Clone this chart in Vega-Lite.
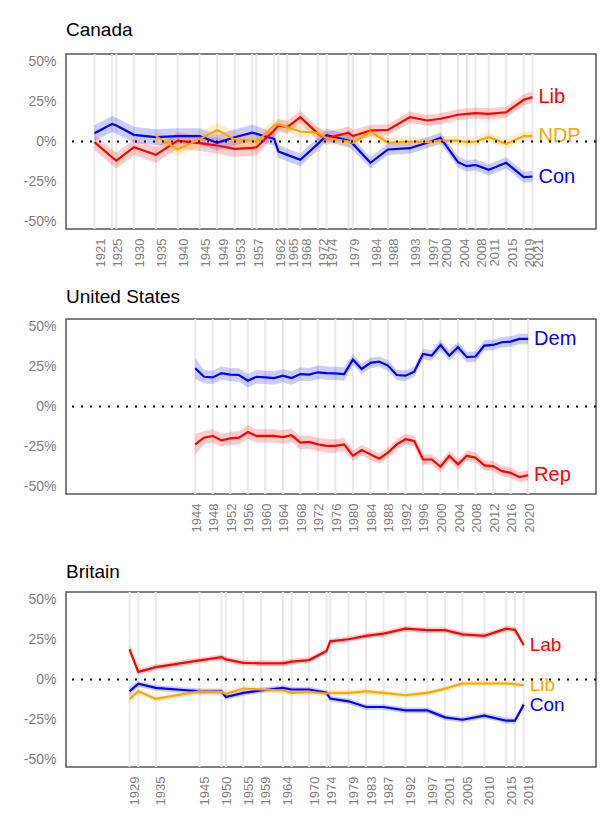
{
  "$schema": "https://vega.github.io/schema/vega-lite/v6.json",
  "background": "white",
  "padding": {"left": 22, "top": 20, "right": 5, "bottom": 5},
  "spacing": 19,
  "resolve": {"scale": {"color": "independent"}, "legend": {"color": "independent"}},
  "datasets": {
    "elections": [
      {"country": "Canada", "year": 1921}, {"country": "Canada", "year": 1925}, {"country": "Canada", "year": 1926},
      {"country": "Canada", "year": 1930}, {"country": "Canada", "year": 1935}, {"country": "Canada", "year": 1940},
      {"country": "Canada", "year": 1945}, {"country": "Canada", "year": 1949}, {"country": "Canada", "year": 1953},
      {"country": "Canada", "year": 1957}, {"country": "Canada", "year": 1958}, {"country": "Canada", "year": 1962},
      {"country": "Canada", "year": 1963}, {"country": "Canada", "year": 1965}, {"country": "Canada", "year": 1968},
      {"country": "Canada", "year": 1972}, {"country": "Canada", "year": 1974}, {"country": "Canada", "year": 1979},
      {"country": "Canada", "year": 1980}, {"country": "Canada", "year": 1984}, {"country": "Canada", "year": 1988},
      {"country": "Canada", "year": 1993}, {"country": "Canada", "year": 1997}, {"country": "Canada", "year": 2000},
      {"country": "Canada", "year": 2004}, {"country": "Canada", "year": 2006}, {"country": "Canada", "year": 2008},
      {"country": "Canada", "year": 2011}, {"country": "Canada", "year": 2015}, {"country": "Canada", "year": 2019},
      {"country": "Canada", "year": 2021},
      {"country": "United States", "year": 1944}, {"country": "United States", "year": 1948}, {"country": "United States", "year": 1952},
      {"country": "United States", "year": 1956}, {"country": "United States", "year": 1960}, {"country": "United States", "year": 1964},
      {"country": "United States", "year": 1968}, {"country": "United States", "year": 1972}, {"country": "United States", "year": 1976},
      {"country": "United States", "year": 1980}, {"country": "United States", "year": 1984}, {"country": "United States", "year": 1988},
      {"country": "United States", "year": 1992}, {"country": "United States", "year": 1996}, {"country": "United States", "year": 2000},
      {"country": "United States", "year": 2004}, {"country": "United States", "year": 2008}, {"country": "United States", "year": 2012},
      {"country": "United States", "year": 2016}, {"country": "United States", "year": 2020},
      {"country": "Britain", "year": 1929}, {"country": "Britain", "year": 1931}, {"country": "Britain", "year": 1935},
      {"country": "Britain", "year": 1945}, {"country": "Britain", "year": 1950}, {"country": "Britain", "year": 1951},
      {"country": "Britain", "year": 1955}, {"country": "Britain", "year": 1959}, {"country": "Britain", "year": 1964},
      {"country": "Britain", "year": 1966}, {"country": "Britain", "year": 1970}, {"country": "Britain", "year": 1974},
      {"country": "Britain", "year": 1974.8}, {"country": "Britain", "year": 1979}, {"country": "Britain", "year": 1983},
      {"country": "Britain", "year": 1987}, {"country": "Britain", "year": 1992}, {"country": "Britain", "year": 1997},
      {"country": "Britain", "year": 2001}, {"country": "Britain", "year": 2005}, {"country": "Britain", "year": 2010},
      {"country": "Britain", "year": 2015}, {"country": "Britain", "year": 2017}, {"country": "Britain", "year": 2019}
    ],
    "votes": [
      {"country": "Canada", "party": "Con", "year": 1921, "share": 5.2, "lo": 0.2, "hi": 10.2},
      {"country": "Canada", "party": "Con", "year": 1925, "share": 11, "lo": 6, "hi": 16},
      {"country": "Canada", "party": "Con", "year": 1926, "share": 10, "lo": 5, "hi": 15},
      {"country": "Canada", "party": "Con", "year": 1930, "share": 4.2, "lo": -0.8, "hi": 9.2},
      {"country": "Canada", "party": "Con", "year": 1935, "share": 2.7, "lo": -2.3, "hi": 7.7},
      {"country": "Canada", "party": "Con", "year": 1940, "share": 3.4, "lo": -1.6, "hi": 8.4},
      {"country": "Canada", "party": "Con", "year": 1945, "share": 3.4, "lo": -1.6, "hi": 8.4},
      {"country": "Canada", "party": "Con", "year": 1949, "share": -0.8, "lo": -5.8, "hi": 4.2},
      {"country": "Canada", "party": "Con", "year": 1953, "share": 2.7, "lo": -2.3, "hi": 7.7},
      {"country": "Canada", "party": "Con", "year": 1957, "share": 5.5, "lo": 0.5, "hi": 10.5},
      {"country": "Canada", "party": "Con", "year": 1958, "share": 4.8, "lo": -0.2, "hi": 9.8},
      {"country": "Canada", "party": "Con", "year": 1962, "share": 1.7, "lo": -2.3, "hi": 5.7},
      {"country": "Canada", "party": "Con", "year": 1963, "share": -6.3, "lo": -10.3, "hi": -2.3},
      {"country": "Canada", "party": "Con", "year": 1965, "share": -8.4, "lo": -12.4, "hi": -4.4},
      {"country": "Canada", "party": "Con", "year": 1968, "share": -11.5, "lo": -15.5, "hi": -7.5},
      {"country": "Canada", "party": "Con", "year": 1972, "share": -1.5, "lo": -5.5, "hi": 2.5},
      {"country": "Canada", "party": "Con", "year": 1974, "share": 4, "lo": 0, "hi": 8},
      {"country": "Canada", "party": "Con", "year": 1979, "share": 0.6, "lo": -3.4, "hi": 4.6},
      {"country": "Canada", "party": "Con", "year": 1980, "share": -1.5, "lo": -5.5, "hi": 2.5},
      {"country": "Canada", "party": "Con", "year": 1984, "share": -13.4, "lo": -16.9, "hi": -9.9},
      {"country": "Canada", "party": "Con", "year": 1988, "share": -5, "lo": -8.5, "hi": -1.5},
      {"country": "Canada", "party": "Con", "year": 1993, "share": -4.2, "lo": -7.7, "hi": -0.7},
      {"country": "Canada", "party": "Con", "year": 1997, "share": -0.8, "lo": -4.3, "hi": 2.7},
      {"country": "Canada", "party": "Con", "year": 2000, "share": 2.3, "lo": -1.2, "hi": 5.8},
      {"country": "Canada", "party": "Con", "year": 2004, "share": -13, "lo": -16.5, "hi": -9.5},
      {"country": "Canada", "party": "Con", "year": 2006, "share": -15.5, "lo": -19, "hi": -12},
      {"country": "Canada", "party": "Con", "year": 2008, "share": -14.7, "lo": -18.2, "hi": -11.2},
      {"country": "Canada", "party": "Con", "year": 2011, "share": -17.8, "lo": -21.3, "hi": -14.3},
      {"country": "Canada", "party": "Con", "year": 2015, "share": -13.4, "lo": -16.9, "hi": -9.9},
      {"country": "Canada", "party": "Con", "year": 2019, "share": -22.4, "lo": -25.9, "hi": -18.9},
      {"country": "Canada", "party": "Con", "year": 2021, "share": -22, "lo": -25.5, "hi": -18.5},
      {"country": "Canada", "party": "Lib", "year": 1921, "share": -0.4, "lo": -5.4, "hi": 4.6},
      {"country": "Canada", "party": "Lib", "year": 1925, "share": -9.9, "lo": -14.9, "hi": -4.9},
      {"country": "Canada", "party": "Lib", "year": 1926, "share": -12, "lo": -17, "hi": -7},
      {"country": "Canada", "party": "Lib", "year": 1930, "share": -3.6, "lo": -8.6, "hi": 1.4},
      {"country": "Canada", "party": "Lib", "year": 1935, "share": -8.4, "lo": -13.4, "hi": -3.4},
      {"country": "Canada", "party": "Lib", "year": 1940, "share": 0.6, "lo": -4.4, "hi": 5.6},
      {"country": "Canada", "party": "Lib", "year": 1945, "share": -1, "lo": -6, "hi": 4},
      {"country": "Canada", "party": "Lib", "year": 1949, "share": -2.5, "lo": -7.5, "hi": 2.5},
      {"country": "Canada", "party": "Lib", "year": 1953, "share": -4.6, "lo": -9.6, "hi": 0.4},
      {"country": "Canada", "party": "Lib", "year": 1957, "share": -4, "lo": -9, "hi": 1},
      {"country": "Canada", "party": "Lib", "year": 1958, "share": -3.6, "lo": -8.6, "hi": 1.4},
      {"country": "Canada", "party": "Lib", "year": 1962, "share": 6.9, "lo": 2.9, "hi": 10.9},
      {"country": "Canada", "party": "Lib", "year": 1963, "share": 10, "lo": 6, "hi": 14},
      {"country": "Canada", "party": "Lib", "year": 1965, "share": 9, "lo": 5, "hi": 13},
      {"country": "Canada", "party": "Lib", "year": 1968, "share": 15.3, "lo": 11.3, "hi": 19.3},
      {"country": "Canada", "party": "Lib", "year": 1972, "share": 5, "lo": 1, "hi": 9},
      {"country": "Canada", "party": "Lib", "year": 1974, "share": 2, "lo": -2, "hi": 6},
      {"country": "Canada", "party": "Lib", "year": 1979, "share": 5.5, "lo": 1.5, "hi": 9.5},
      {"country": "Canada", "party": "Lib", "year": 1980, "share": 3.4, "lo": -0.6, "hi": 7.4},
      {"country": "Canada", "party": "Lib", "year": 1984, "share": 6.9, "lo": 3.4, "hi": 10.4},
      {"country": "Canada", "party": "Lib", "year": 1988, "share": 7.3, "lo": 3.8, "hi": 10.8},
      {"country": "Canada", "party": "Lib", "year": 1993, "share": 15.3, "lo": 11.8, "hi": 18.8},
      {"country": "Canada", "party": "Lib", "year": 1997, "share": 13.2, "lo": 9.7, "hi": 16.7},
      {"country": "Canada", "party": "Lib", "year": 2000, "share": 14.3, "lo": 10.8, "hi": 17.8},
      {"country": "Canada", "party": "Lib", "year": 2004, "share": 16.8, "lo": 13.3, "hi": 20.3},
      {"country": "Canada", "party": "Lib", "year": 2006, "share": 17.4, "lo": 13.9, "hi": 20.9},
      {"country": "Canada", "party": "Lib", "year": 2008, "share": 17.8, "lo": 14.3, "hi": 21.3},
      {"country": "Canada", "party": "Lib", "year": 2011, "share": 17.4, "lo": 13.9, "hi": 20.9},
      {"country": "Canada", "party": "Lib", "year": 2015, "share": 18.4, "lo": 14.9, "hi": 21.9},
      {"country": "Canada", "party": "Lib", "year": 2019, "share": 26.2, "lo": 22.7, "hi": 29.7},
      {"country": "Canada", "party": "Lib", "year": 2021, "share": 27.9, "lo": 24.4, "hi": 31.4},
      {"country": "Canada", "party": "NDP", "year": 1935, "share": 3.4, "lo": -1.1, "hi": 7.9},
      {"country": "Canada", "party": "NDP", "year": 1940, "share": -5, "lo": -9.5, "hi": -0.5},
      {"country": "Canada", "party": "NDP", "year": 1945, "share": 1.5, "lo": -3, "hi": 6},
      {"country": "Canada", "party": "NDP", "year": 1949, "share": 7.3, "lo": 2.8, "hi": 11.8},
      {"country": "Canada", "party": "NDP", "year": 1953, "share": 1.3, "lo": -3.2, "hi": 5.8},
      {"country": "Canada", "party": "NDP", "year": 1957, "share": 0.6, "lo": -3.9, "hi": 5.1},
      {"country": "Canada", "party": "NDP", "year": 1958, "share": -0.4, "lo": -4.9, "hi": 4.1},
      {"country": "Canada", "party": "NDP", "year": 1962, "share": 10, "lo": 6.5, "hi": 13.5},
      {"country": "Canada", "party": "NDP", "year": 1963, "share": 10.9, "lo": 7.4, "hi": 14.4},
      {"country": "Canada", "party": "NDP", "year": 1965, "share": 9, "lo": 5.5, "hi": 12.5},
      {"country": "Canada", "party": "NDP", "year": 1968, "share": 6.3, "lo": 2.8, "hi": 9.8},
      {"country": "Canada", "party": "NDP", "year": 1972, "share": 5.5, "lo": 2, "hi": 9},
      {"country": "Canada", "party": "NDP", "year": 1974, "share": 2.1, "lo": -1.4, "hi": 5.6},
      {"country": "Canada", "party": "NDP", "year": 1979, "share": 0, "lo": -3.5, "hi": 3.5},
      {"country": "Canada", "party": "NDP", "year": 1980, "share": -0.8, "lo": -4.3, "hi": 2.7},
      {"country": "Canada", "party": "NDP", "year": 1984, "share": 6.3, "lo": 3.3, "hi": 9.3},
      {"country": "Canada", "party": "NDP", "year": 1988, "share": -0.8, "lo": -3.8, "hi": 2.2},
      {"country": "Canada", "party": "NDP", "year": 1993, "share": 0, "lo": -3, "hi": 3},
      {"country": "Canada", "party": "NDP", "year": 1997, "share": -0.4, "lo": -3.4, "hi": 2.6},
      {"country": "Canada", "party": "NDP", "year": 2000, "share": 0.6, "lo": -2.4, "hi": 3.6},
      {"country": "Canada", "party": "NDP", "year": 2004, "share": 0.6, "lo": -2.4, "hi": 3.6},
      {"country": "Canada", "party": "NDP", "year": 2006, "share": -0.4, "lo": -3.4, "hi": 2.6},
      {"country": "Canada", "party": "NDP", "year": 2008, "share": 0, "lo": -3, "hi": 3},
      {"country": "Canada", "party": "NDP", "year": 2011, "share": 2.7, "lo": -0.3, "hi": 5.7},
      {"country": "Canada", "party": "NDP", "year": 2015, "share": -1.5, "lo": -4.5, "hi": 1.5},
      {"country": "Canada", "party": "NDP", "year": 2019, "share": 3.4, "lo": 0.4, "hi": 6.4},
      {"country": "Canada", "party": "NDP", "year": 2021, "share": 3.4, "lo": 0.4, "hi": 6.4},
      {"country": "United States", "party": "Dem", "year": 1944, "share": 24, "lo": 17.5, "hi": 30.5},
      {"country": "United States", "party": "Dem", "year": 1946, "share": 18.7, "lo": 14.5, "hi": 22.9},
      {"country": "United States", "party": "Dem", "year": 1948, "share": 18.3, "lo": 14.1, "hi": 22.5},
      {"country": "United States", "party": "Dem", "year": 1950, "share": 21, "lo": 16.8, "hi": 25.2},
      {"country": "United States", "party": "Dem", "year": 1952, "share": 20, "lo": 15.8, "hi": 24.2},
      {"country": "United States", "party": "Dem", "year": 1954, "share": 19.8, "lo": 15.6, "hi": 24},
      {"country": "United States", "party": "Dem", "year": 1956, "share": 16.2, "lo": 12, "hi": 20.4},
      {"country": "United States", "party": "Dem", "year": 1958, "share": 18.7, "lo": 14.5, "hi": 22.9},
      {"country": "United States", "party": "Dem", "year": 1960, "share": 18.3, "lo": 14.1, "hi": 22.5},
      {"country": "United States", "party": "Dem", "year": 1962, "share": 17.9, "lo": 13.7, "hi": 22.1},
      {"country": "United States", "party": "Dem", "year": 1964, "share": 19.4, "lo": 15.2, "hi": 23.6},
      {"country": "United States", "party": "Dem", "year": 1966, "share": 17.9, "lo": 13.7, "hi": 22.1},
      {"country": "United States", "party": "Dem", "year": 1968, "share": 20.4, "lo": 16.2, "hi": 24.6},
      {"country": "United States", "party": "Dem", "year": 1970, "share": 20, "lo": 15.8, "hi": 24.2},
      {"country": "United States", "party": "Dem", "year": 1972, "share": 21.5, "lo": 17.3, "hi": 25.7},
      {"country": "United States", "party": "Dem", "year": 1974, "share": 21, "lo": 16.8, "hi": 25.2},
      {"country": "United States", "party": "Dem", "year": 1976, "share": 20.8, "lo": 16.6, "hi": 25},
      {"country": "United States", "party": "Dem", "year": 1978, "share": 20.4, "lo": 16.2, "hi": 24.6},
      {"country": "United States", "party": "Dem", "year": 1980, "share": 29.5, "lo": 26.2, "hi": 32.8},
      {"country": "United States", "party": "Dem", "year": 1982, "share": 23.6, "lo": 20.3, "hi": 26.9},
      {"country": "United States", "party": "Dem", "year": 1984, "share": 27.4, "lo": 24.1, "hi": 30.7},
      {"country": "United States", "party": "Dem", "year": 1986, "share": 28.2, "lo": 24.9, "hi": 31.5},
      {"country": "United States", "party": "Dem", "year": 1988, "share": 25.7, "lo": 22.4, "hi": 29},
      {"country": "United States", "party": "Dem", "year": 1990, "share": 19.8, "lo": 16.5, "hi": 23.1},
      {"country": "United States", "party": "Dem", "year": 1992, "share": 19.4, "lo": 16.1, "hi": 22.7},
      {"country": "United States", "party": "Dem", "year": 1994, "share": 21.9, "lo": 18.6, "hi": 25.2},
      {"country": "United States", "party": "Dem", "year": 1996, "share": 33, "lo": 29.7, "hi": 36.3},
      {"country": "United States", "party": "Dem", "year": 1998, "share": 32, "lo": 28.7, "hi": 35.3},
      {"country": "United States", "party": "Dem", "year": 2000, "share": 38.7, "lo": 35.4, "hi": 42},
      {"country": "United States", "party": "Dem", "year": 2002, "share": 32, "lo": 28.7, "hi": 35.3},
      {"country": "United States", "party": "Dem", "year": 2004, "share": 37.3, "lo": 34, "hi": 40.6},
      {"country": "United States", "party": "Dem", "year": 2006, "share": 31, "lo": 27.7, "hi": 34.3},
      {"country": "United States", "party": "Dem", "year": 2008, "share": 31.4, "lo": 28.1, "hi": 34.7},
      {"country": "United States", "party": "Dem", "year": 2010, "share": 38.3, "lo": 35, "hi": 41.6},
      {"country": "United States", "party": "Dem", "year": 2012, "share": 38.7, "lo": 35.4, "hi": 42},
      {"country": "United States", "party": "Dem", "year": 2014, "share": 40.4, "lo": 37.1, "hi": 43.7},
      {"country": "United States", "party": "Dem", "year": 2016, "share": 40.8, "lo": 37.5, "hi": 44.1},
      {"country": "United States", "party": "Dem", "year": 2018, "share": 42.5, "lo": 39.2, "hi": 45.8},
      {"country": "United States", "party": "Dem", "year": 2020, "share": 42.5, "lo": 39.2, "hi": 45.8},
      {"country": "United States", "party": "Rep", "year": 1944, "share": -23.8, "lo": -30.3, "hi": -17.3},
      {"country": "United States", "party": "Rep", "year": 1946, "share": -19.6, "lo": -23.8, "hi": -15.4},
      {"country": "United States", "party": "Rep", "year": 1948, "share": -18.5, "lo": -22.7, "hi": -14.3},
      {"country": "United States", "party": "Rep", "year": 1950, "share": -21.3, "lo": -25.5, "hi": -17.1},
      {"country": "United States", "party": "Rep", "year": 1952, "share": -20, "lo": -24.2, "hi": -15.8},
      {"country": "United States", "party": "Rep", "year": 1954, "share": -19.6, "lo": -23.8, "hi": -15.4},
      {"country": "United States", "party": "Rep", "year": 1956, "share": -16, "lo": -20.2, "hi": -11.8},
      {"country": "United States", "party": "Rep", "year": 1958, "share": -18.5, "lo": -22.7, "hi": -14.3},
      {"country": "United States", "party": "Rep", "year": 1960, "share": -18.5, "lo": -22.7, "hi": -14.3},
      {"country": "United States", "party": "Rep", "year": 1962, "share": -18.5, "lo": -22.7, "hi": -14.3},
      {"country": "United States", "party": "Rep", "year": 1964, "share": -19.2, "lo": -23.4, "hi": -15},
      {"country": "United States", "party": "Rep", "year": 1966, "share": -18.1, "lo": -22.3, "hi": -13.9},
      {"country": "United States", "party": "Rep", "year": 1968, "share": -22.7, "lo": -26.9, "hi": -18.5},
      {"country": "United States", "party": "Rep", "year": 1970, "share": -22.3, "lo": -26.5, "hi": -18.1},
      {"country": "United States", "party": "Rep", "year": 1972, "share": -23.8, "lo": -28, "hi": -19.6},
      {"country": "United States", "party": "Rep", "year": 1974, "share": -24.8, "lo": -29, "hi": -20.6},
      {"country": "United States", "party": "Rep", "year": 1976, "share": -24.8, "lo": -29, "hi": -20.6},
      {"country": "United States", "party": "Rep", "year": 1978, "share": -23.8, "lo": -28, "hi": -19.6},
      {"country": "United States", "party": "Rep", "year": 1980, "share": -31, "lo": -34.3, "hi": -27.7},
      {"country": "United States", "party": "Rep", "year": 1982, "share": -27.4, "lo": -30.7, "hi": -24.1},
      {"country": "United States", "party": "Rep", "year": 1984, "share": -30.1, "lo": -33.4, "hi": -26.8},
      {"country": "United States", "party": "Rep", "year": 1986, "share": -32.8, "lo": -36.1, "hi": -29.5},
      {"country": "United States", "party": "Rep", "year": 1988, "share": -29, "lo": -32.3, "hi": -25.7},
      {"country": "United States", "party": "Rep", "year": 1990, "share": -23.8, "lo": -27.1, "hi": -20.5},
      {"country": "United States", "party": "Rep", "year": 1992, "share": -20.6, "lo": -23.9, "hi": -17.3},
      {"country": "United States", "party": "Rep", "year": 1994, "share": -21.7, "lo": -25, "hi": -18.4},
      {"country": "United States", "party": "Rep", "year": 1996, "share": -33.3, "lo": -36.6, "hi": -30},
      {"country": "United States", "party": "Rep", "year": 1998, "share": -33.3, "lo": -36.6, "hi": -30},
      {"country": "United States", "party": "Rep", "year": 2000, "share": -37.9, "lo": -41.2, "hi": -34.6},
      {"country": "United States", "party": "Rep", "year": 2002, "share": -31, "lo": -34.3, "hi": -27.7},
      {"country": "United States", "party": "Rep", "year": 2004, "share": -36.4, "lo": -39.7, "hi": -33.1},
      {"country": "United States", "party": "Rep", "year": 2006, "share": -31, "lo": -34.3, "hi": -27.7},
      {"country": "United States", "party": "Rep", "year": 2008, "share": -32.2, "lo": -35.5, "hi": -28.9},
      {"country": "United States", "party": "Rep", "year": 2010, "share": -37, "lo": -40.3, "hi": -33.7},
      {"country": "United States", "party": "Rep", "year": 2012, "share": -37.5, "lo": -40.8, "hi": -34.2},
      {"country": "United States", "party": "Rep", "year": 2014, "share": -40.6, "lo": -43.9, "hi": -37.3},
      {"country": "United States", "party": "Rep", "year": 2016, "share": -41.7, "lo": -45, "hi": -38.4},
      {"country": "United States", "party": "Rep", "year": 2018, "share": -44.4, "lo": -47.7, "hi": -41.1},
      {"country": "United States", "party": "Rep", "year": 2020, "share": -43.2, "lo": -46.5, "hi": -39.9},
      {"country": "Britain", "party": "Lab", "year": 1929, "share": 18.9, "lo": 15.9, "hi": 21.9},
      {"country": "Britain", "party": "Lab", "year": 1931, "share": 4.8, "lo": 3, "hi": 6.6},
      {"country": "Britain", "party": "Lab", "year": 1935, "share": 7.8, "lo": 6, "hi": 9.6},
      {"country": "Britain", "party": "Lab", "year": 1945, "share": 12, "lo": 10.2, "hi": 13.8},
      {"country": "Britain", "party": "Lab", "year": 1950, "share": 14.1, "lo": 12.3, "hi": 15.9},
      {"country": "Britain", "party": "Lab", "year": 1951, "share": 12.6, "lo": 10.8, "hi": 14.4},
      {"country": "Britain", "party": "Lab", "year": 1955, "share": 10.5, "lo": 8.7, "hi": 12.3},
      {"country": "Britain", "party": "Lab", "year": 1959, "share": 10.1, "lo": 8.3, "hi": 11.9},
      {"country": "Britain", "party": "Lab", "year": 1964, "share": 10.1, "lo": 8.3, "hi": 11.9},
      {"country": "Britain", "party": "Lab", "year": 1966, "share": 11.2, "lo": 9.4, "hi": 13},
      {"country": "Britain", "party": "Lab", "year": 1970, "share": 12.2, "lo": 10.4, "hi": 14},
      {"country": "Britain", "party": "Lab", "year": 1974, "share": 18, "lo": 16.2, "hi": 19.8},
      {"country": "Britain", "party": "Lab", "year": 1974.8, "share": 24, "lo": 22.2, "hi": 25.8},
      {"country": "Britain", "party": "Lab", "year": 1979, "share": 25.3, "lo": 23.5, "hi": 27.1},
      {"country": "Britain", "party": "Lab", "year": 1983, "share": 27.4, "lo": 25.6, "hi": 29.2},
      {"country": "Britain", "party": "Lab", "year": 1987, "share": 28.8, "lo": 27, "hi": 30.6},
      {"country": "Britain", "party": "Lab", "year": 1992, "share": 32, "lo": 30.2, "hi": 33.8},
      {"country": "Britain", "party": "Lab", "year": 1997, "share": 31, "lo": 29.2, "hi": 32.8},
      {"country": "Britain", "party": "Lab", "year": 2001, "share": 31, "lo": 29.2, "hi": 32.8},
      {"country": "Britain", "party": "Lab", "year": 2005, "share": 28.4, "lo": 26.6, "hi": 30.2},
      {"country": "Britain", "party": "Lab", "year": 2010, "share": 27.4, "lo": 25.6, "hi": 29.2},
      {"country": "Britain", "party": "Lab", "year": 2015, "share": 32, "lo": 30.2, "hi": 33.8},
      {"country": "Britain", "party": "Lab", "year": 2017, "share": 31.2, "lo": 29.4, "hi": 33},
      {"country": "Britain", "party": "Lab", "year": 2019, "share": 21.7, "lo": 19.9, "hi": 23.5},
      {"country": "Britain", "party": "Con", "year": 1929, "share": -7.4, "lo": -10.4, "hi": -4.4},
      {"country": "Britain", "party": "Con", "year": 1931, "share": -2.7, "lo": -4.5, "hi": -0.9},
      {"country": "Britain", "party": "Con", "year": 1935, "share": -5.3, "lo": -7.1, "hi": -3.5},
      {"country": "Britain", "party": "Con", "year": 1945, "share": -7.4, "lo": -9.2, "hi": -5.6},
      {"country": "Britain", "party": "Con", "year": 1950, "share": -7.4, "lo": -9.2, "hi": -5.6},
      {"country": "Britain", "party": "Con", "year": 1951, "share": -11, "lo": -12.8, "hi": -9.2},
      {"country": "Britain", "party": "Con", "year": 1955, "share": -8.4, "lo": -10.2, "hi": -6.6},
      {"country": "Britain", "party": "Con", "year": 1959, "share": -6.9, "lo": -8.7, "hi": -5.1},
      {"country": "Britain", "party": "Con", "year": 1964, "share": -5.3, "lo": -7.1, "hi": -3.5},
      {"country": "Britain", "party": "Con", "year": 1966, "share": -6.3, "lo": -8.1, "hi": -4.5},
      {"country": "Britain", "party": "Con", "year": 1970, "share": -6.3, "lo": -8.1, "hi": -4.5},
      {"country": "Britain", "party": "Con", "year": 1974, "share": -8.4, "lo": -10.2, "hi": -6.6},
      {"country": "Britain", "party": "Con", "year": 1974.8, "share": -12, "lo": -13.8, "hi": -10.2},
      {"country": "Britain", "party": "Con", "year": 1979, "share": -13.7, "lo": -15.5, "hi": -11.9},
      {"country": "Britain", "party": "Con", "year": 1983, "share": -17.3, "lo": -19.1, "hi": -15.5},
      {"country": "Britain", "party": "Con", "year": 1987, "share": -17.3, "lo": -19.1, "hi": -15.5},
      {"country": "Britain", "party": "Con", "year": 1992, "share": -19.4, "lo": -21.2, "hi": -17.6},
      {"country": "Britain", "party": "Con", "year": 1997, "share": -19.4, "lo": -21.2, "hi": -17.6},
      {"country": "Britain", "party": "Con", "year": 2001, "share": -23.8, "lo": -25.6, "hi": -22},
      {"country": "Britain", "party": "Con", "year": 2005, "share": -25.3, "lo": -27.1, "hi": -23.5},
      {"country": "Britain", "party": "Con", "year": 2010, "share": -22.7, "lo": -24.5, "hi": -20.9},
      {"country": "Britain", "party": "Con", "year": 2015, "share": -25.9, "lo": -27.7, "hi": -24.1},
      {"country": "Britain", "party": "Con", "year": 2017, "share": -25.9, "lo": -27.7, "hi": -24.1},
      {"country": "Britain", "party": "Con", "year": 2019, "share": -15.8, "lo": -17.6, "hi": -14},
      {"country": "Britain", "party": "Lib", "year": 1929, "share": -12.2, "lo": -15.2, "hi": -9.2},
      {"country": "Britain", "party": "Lib", "year": 1931, "share": -7.4, "lo": -9.2, "hi": -5.6},
      {"country": "Britain", "party": "Lib", "year": 1935, "share": -12.2, "lo": -14, "hi": -10.4},
      {"country": "Britain", "party": "Lib", "year": 1945, "share": -7.4, "lo": -9.2, "hi": -5.6},
      {"country": "Britain", "party": "Lib", "year": 1950, "share": -7.8, "lo": -9.6, "hi": -6},
      {"country": "Britain", "party": "Lib", "year": 1951, "share": -9, "lo": -10.8, "hi": -7.2},
      {"country": "Britain", "party": "Lib", "year": 1955, "share": -5.7, "lo": -7.5, "hi": -3.9},
      {"country": "Britain", "party": "Lib", "year": 1959, "share": -6.3, "lo": -8.1, "hi": -4.5},
      {"country": "Britain", "party": "Lib", "year": 1964, "share": -6.9, "lo": -8.7, "hi": -5.1},
      {"country": "Britain", "party": "Lib", "year": 1966, "share": -8.4, "lo": -10.2, "hi": -6.6},
      {"country": "Britain", "party": "Lib", "year": 1970, "share": -7.8, "lo": -9.6, "hi": -6},
      {"country": "Britain", "party": "Lib", "year": 1974, "share": -8.8, "lo": -10.6, "hi": -7},
      {"country": "Britain", "party": "Lib", "year": 1974.8, "share": -8.4, "lo": -10.2, "hi": -6.6},
      {"country": "Britain", "party": "Lib", "year": 1979, "share": -8.4, "lo": -10.2, "hi": -6.6},
      {"country": "Britain", "party": "Lib", "year": 1983, "share": -7.4, "lo": -9.2, "hi": -5.6},
      {"country": "Britain", "party": "Lib", "year": 1987, "share": -8.4, "lo": -10.2, "hi": -6.6},
      {"country": "Britain", "party": "Lib", "year": 1992, "share": -9.9, "lo": -11.7, "hi": -8.1},
      {"country": "Britain", "party": "Lib", "year": 1997, "share": -8.4, "lo": -10.2, "hi": -6.6},
      {"country": "Britain", "party": "Lib", "year": 2001, "share": -5.7, "lo": -7.5, "hi": -3.9},
      {"country": "Britain", "party": "Lib", "year": 2005, "share": -2.5, "lo": -4.3, "hi": -0.7},
      {"country": "Britain", "party": "Lib", "year": 2010, "share": -2.5, "lo": -4.3, "hi": -0.7},
      {"country": "Britain", "party": "Lib", "year": 2015, "share": -2.5, "lo": -4.3, "hi": -0.7},
      {"country": "Britain", "party": "Lib", "year": 2017, "share": -2.9, "lo": -4.7, "hi": -1.1},
      {"country": "Britain", "party": "Lib", "year": 2019, "share": -3.6, "lo": -5.4, "hi": -1.8}
    ]
  },
  "vconcat": [
    {
      "width": 530, "height": 175,
      "title": {"text": "Canada", "offset": 13},
      "layer": [
        {
          "data": {"name": "elections"},
          "transform": [{"filter": "datum.country === 'Canada'"}],
          "mark": {"type": "rule", "color": "#e9e9e9", "strokeWidth": 2},
          "encoding": {
            "x": {"field": "year", "type": "quantitative", "title": null,
                  "scale": {"domain": [1914.5, 2035.5], "nice": false, "zero": false},
                  "axis": {"values": [1921, 1925, 1930, 1935, 1940, 1945, 1949, 1953, 1957, 1962, 1965, 1968, 1972, 1974, 1979, 1984, 1988, 1993, 1997, 2000, 2004, 2008, 2011, 2015, 2019, 2021], "format": "d", "labelOffset": 6, "labelOverlap": false}}
          }
        },
        {
          "data": {"name": "votes"},
          "transform": [{"filter": "datum.country === 'Canada'"}],
          "encoding": {
            "x": {"field": "year", "type": "quantitative", "title": null,
                  "scale": {"domain": [1914.5, 2035.5], "nice": false, "zero": false},
                  "axis": {"values": [1921, 1925, 1930, 1935, 1940, 1945, 1949, 1953, 1957, 1962, 1965, 1968, 1972, 1974, 1979, 1984, 1988, 1993, 1997, 2000, 2004, 2008, 2011, 2015, 2019, 2021], "format": "d", "labelOffset": 6, "labelOverlap": false}},
            "color": {"field": "party", "type": "nominal", "legend": null,
                      "scale": {"domain": ["Lib", "NDP", "Con"], "range": ["#ff0000", "#ffa500", "#0000ff"]}}
          },
          "layer": [
            {
              "mark": {"type": "area", "opacity": 0.2},
              "encoding": {
                "y": {"field": "lo", "type": "quantitative", "title": null,
                      "scale": {"domain": [-55, 55], "nice": false},
                      "axis": {"values": [-50, -25, 0, 25, 50], "labelExpr": "datum.value + '%'"}},
                "y2": {"field": "hi"}
              }
            },
            {
              "mark": {"type": "line", "strokeWidth": 2.2},
              "encoding": {"y": {"field": "share", "type": "quantitative", "title": null, "scale": {"domain": [-55, 55], "nice": false}}}
            },
            {
              "transform": [
                {"joinaggregate": [{"op": "max", "field": "year", "as": "last"}], "groupby": ["party"]},
                {"filter": "datum.year === datum.last"}
              ],
              "mark": {"type": "text", "align": "left", "baseline": "middle", "dx": 6, "fontSize": 20},
              "encoding": {
                "y": {"field": "share", "type": "quantitative", "title": null, "scale": {"domain": [-55, 55], "nice": false}},
                "text": {"field": "party"}
              }
            }
          ]
        },
        {
          "data": {"values": [{"zero": 0}]},
          "mark": {"type": "rule", "color": "black", "strokeWidth": 2, "strokeDash": [2, 7]},
          "encoding": {"y": {"field": "zero", "type": "quantitative", "title": null, "scale": {"domain": [-55, 55], "nice": false}}}
        }
      ]
    },
    {
      "spacing": 29,
      "resolve": {"scale": {"color": "independent"}, "legend": {"color": "independent"}},
      "vconcat": [
        {
          "width": 530, "height": 175,
          "title": {"text": "United States", "offset": 11},
          "layer": [
            {
              "data": {"name": "elections"},
              "transform": [{"filter": "datum.country === 'United States'"}],
              "mark": {"type": "rule", "color": "#e9e9e9", "strokeWidth": 2},
              "encoding": {
                "x": {"field": "year", "type": "quantitative", "title": null,
                      "scale": {"domain": [1914.5, 2035.5], "nice": false, "zero": false},
                      "axis": {"values": [1944, 1948, 1952, 1956, 1960, 1964, 1968, 1972, 1976, 1980, 1984, 1988, 1992, 1996, 2000, 2004, 2008, 2012, 2016, 2020], "format": "d", "labelOffset": 1, "labelOverlap": false}}
              }
            },
            {
              "data": {"name": "votes"},
              "transform": [{"filter": "datum.country === 'United States'"}],
              "encoding": {
                "x": {"field": "year", "type": "quantitative", "title": null,
                      "scale": {"domain": [1914.5, 2035.5], "nice": false, "zero": false},
                      "axis": {"values": [1944, 1948, 1952, 1956, 1960, 1964, 1968, 1972, 1976, 1980, 1984, 1988, 1992, 1996, 2000, 2004, 2008, 2012, 2016, 2020], "format": "d", "labelOffset": 1, "labelOverlap": false}},
                "color": {"field": "party", "type": "nominal", "legend": null,
                          "scale": {"domain": ["Dem", "Rep"], "range": ["#0000ff", "#ff0000"]}}
              },
              "layer": [
                {
                  "mark": {"type": "area", "opacity": 0.2},
                  "encoding": {
                    "y": {"field": "lo", "type": "quantitative", "title": null,
                          "scale": {"domain": [-55, 55], "nice": false},
                          "axis": {"values": [-50, -25, 0, 25, 50], "labelExpr": "datum.value + '%'"}},
                    "y2": {"field": "hi"}
                  }
                },
                {
                  "mark": {"type": "line", "strokeWidth": 2.2},
                  "encoding": {"y": {"field": "share", "type": "quantitative", "title": null, "scale": {"domain": [-55, 55], "nice": false}}}
                },
                {
                  "transform": [
                    {"joinaggregate": [{"op": "max", "field": "year", "as": "last"}], "groupby": ["party"]},
                    {"filter": "datum.year === datum.last"}
                  ],
                  "mark": {"type": "text", "align": "left", "baseline": "middle", "dx": 6, "fontSize": 20},
                  "encoding": {
                    "y": {"field": "share", "type": "quantitative", "title": null, "scale": {"domain": [-55, 55], "nice": false}},
                    "text": {"field": "party"}
                  }
                }
              ]
            },
            {
              "data": {"values": [{"zero": 0}]},
              "mark": {"type": "rule", "color": "black", "strokeWidth": 2, "strokeDash": [2, 7]},
              "encoding": {"y": {"field": "zero", "type": "quantitative", "title": null, "scale": {"domain": [-55, 55], "nice": false}}}
            }
          ]
        },
        {
          "width": 530, "height": 175,
          "title": {"text": "Britain", "offset": 9},
          "layer": [
            {
              "data": {"name": "elections"},
              "transform": [{"filter": "datum.country === 'Britain'"}],
              "mark": {"type": "rule", "color": "#e9e9e9", "strokeWidth": 2},
              "encoding": {
                "x": {"field": "year", "type": "quantitative", "title": null,
                      "scale": {"domain": [1914.5, 2035.5], "nice": false, "zero": false},
                      "axis": {"values": [1929, 1935, 1945, 1950, 1955, 1959, 1964, 1970, 1974, 1979, 1983, 1987, 1992, 1997, 2001, 2005, 2010, 2015, 2019], "format": "d", "labelOffset": 5, "labelOverlap": false}}
              }
            },
            {
              "data": {"name": "votes"},
              "transform": [{"filter": "datum.country === 'Britain'"}],
              "encoding": {
                "x": {"field": "year", "type": "quantitative", "title": null,
                      "scale": {"domain": [1914.5, 2035.5], "nice": false, "zero": false},
                      "axis": {"values": [1929, 1935, 1945, 1950, 1955, 1959, 1964, 1970, 1974, 1979, 1983, 1987, 1992, 1997, 2001, 2005, 2010, 2015, 2019], "format": "d", "labelOffset": 5, "labelOverlap": false}},
                "color": {"field": "party", "type": "nominal", "legend": null,
                          "scale": {"domain": ["Lab", "Lib", "Con"], "range": ["#ff0000", "#ffa500", "#0000ff"]}}
              },
              "layer": [
                {
                  "mark": {"type": "area", "opacity": 0.2},
                  "encoding": {
                    "y": {"field": "lo", "type": "quantitative", "title": null,
                          "scale": {"domain": [-55, 55], "nice": false},
                          "axis": {"values": [-50, -25, 0, 25, 50], "labelExpr": "datum.value + '%'"}},
                    "y2": {"field": "hi"}
                  }
                },
                {
                  "mark": {"type": "line", "strokeWidth": 2.2},
                  "encoding": {"y": {"field": "share", "type": "quantitative", "title": null, "scale": {"domain": [-55, 55], "nice": false}}}
                },
                {
                  "transform": [
                    {"joinaggregate": [{"op": "max", "field": "year", "as": "last"}], "groupby": ["party"]},
                    {"filter": "datum.year === datum.last"}
                  ],
                  "mark": {"type": "text", "align": "left", "baseline": "middle", "dx": 6, "fontSize": 19},
                  "encoding": {
                    "y": {"field": "share", "type": "quantitative", "title": null, "scale": {"domain": [-55, 55], "nice": false}},
                    "text": {"field": "party"}
                  }
                }
              ]
            },
            {
              "data": {"values": [{"zero": 0}]},
              "mark": {"type": "rule", "color": "black", "strokeWidth": 2, "strokeDash": [2, 7]},
              "encoding": {"y": {"field": "zero", "type": "quantitative", "title": null, "scale": {"domain": [-55, 55], "nice": false}}}
            }
          ]
        }
      ]
    }
  ],
  "config": {
    "font": "Liberation Sans",
    "view": {"stroke": "#555555", "strokeWidth": 1.5},
    "title": {"anchor": "start", "frame": "group", "fontSize": 19, "fontWeight": "normal", "color": "#000000", "offset": 8},
    "axis": {"domain": false, "ticks": false, "grid": false, "labelColor": "#7f7f7f", "labelFont": "Liberation Sans", "labelOverlap": false},
    "axisQuantitative": {"labelOverlap": false},
    "axisY": {"labelFontSize": 14, "labelPadding": 10},
    "axisX": {"labelFontSize": 13, "labelAngle": 270, "labelPadding": 9, "labelOverlap": false, "labelBound": false, "labelFlush": false}
  }
}
